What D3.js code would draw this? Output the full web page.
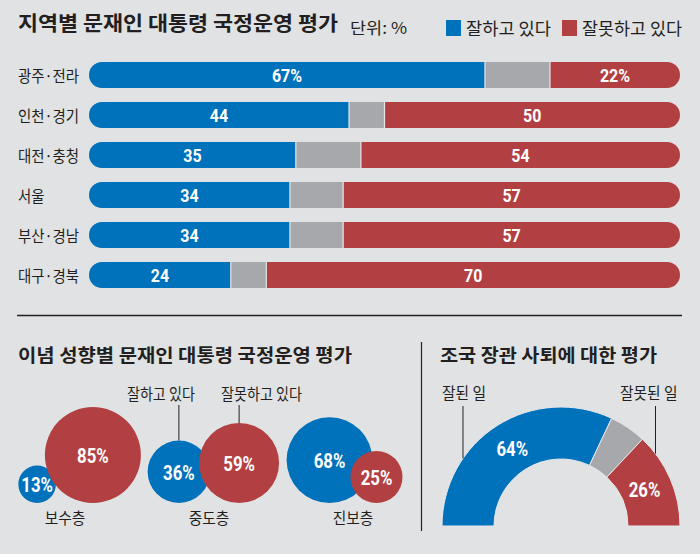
<!DOCTYPE html>
<html>
<head>
<meta charset="utf-8">
<script src="https://cdn.jsdelivr.net/npm/d3@7"></script>
<style>
  html, body { margin: 0; padding: 0; background: #e1e2e4; }
  svg { display: block; }
</style>
</head>
<body>
<svg id="chart" width="700" height="554"></svg>
<script>
// ---------------- DATA ----------------
const regions = ['광주·전라', '인천·경기', '대전·충청', '서울', '부산·경남', '대구·경북'];
const regionGood = [67, 44, 35, 34, 34, 24];
const regionBad = [22, 50, 54, 57, 57, 70];
const legendLabels = ['잘하고 있다', '잘못하고 있다'];

const ideology = ['보수층', '중도층', '진보층'];
const ideologyGood = [13, 36, 68];
const ideologyBad = [85, 59, 25];

const resignLabels = ['잘된 일', '기타', '잘못된 일'];
const resignValues = [64, 10, 26];

const titles = ['지역별 문재인 대통령 국정운영 평가', '이념 성향별 문재인 대통령 국정운영 평가', '조국 장관 사퇴에 대한 평가'];
const unitLabel = '단위: %';

// ---------------- STYLE ----------------
const BLUE = '#0071bb', RED = '#b24043', GRAY = '#a7a8ab', BG = '#e1e2e4', INK = '#231f20';
const KR = "'Noto Sans CJK KR', 'Noto Sans', sans-serif";
const NUM = "'Liberation Sans Narrow', 'Roboto', 'Liberation Sans', sans-serif";

const svg = d3.select('#chart');
svg.append('rect').attr('width', 700).attr('height', 554).attr('fill', BG);

function condense(sel, f) {
  sel.each(function () {
    const w = this.getComputedTextLength();
    d3.select(this).attr('textLength', w * f).attr('lengthAdjust', 'spacingAndGlyphs');
  });
}

// ---------------- HEADER ----------------
svg.append('text').attr('x', 18).attr('y', 31).text(titles[0])
  .attr('font-family', KR).attr('font-weight', 700).attr('font-size', 20).attr('fill', INK)
  .attr('textLength', 320).attr('lengthAdjust', 'spacingAndGlyphs');
svg.append('text').attr('x', 350).attr('y', 34).text(unitLabel)
  .attr('font-family', KR).attr('font-size', 16).attr('fill', INK)
  .attr('textLength', 57).attr('lengthAdjust', 'spacingAndGlyphs');

const legend = [
  { label: legendLabels[0], color: BLUE, x: 446, w: 85 },
  { label: legendLabels[1], color: RED, x: 562, w: 100 }
];
const lg = svg.append('g').selectAll('g').data(legend).join('g');
lg.append('rect').attr('x', d => d.x).attr('y', 20).attr('width', 15).attr('height', 16).attr('fill', d => d.color);
lg.append('text').attr('x', d => d.x + 20).attr('y', 35).text(d => d.label)
  .attr('font-family', KR).attr('font-size', 17).attr('fill', INK)
  .attr('textLength', d => d.w).attr('lengthAdjust', 'spacingAndGlyphs');

// ---------------- STACKED BARS ----------------
const rows = regions.map((r, i) => ({ region: r, good: regionGood[i], bad: regionBad[i], i }));
const y = d3.scaleBand().domain(regions).range([55, 295]).paddingInner(0.35).paddingOuter(0.175);
const x = d3.scaleLinear().domain([0, 100]).range([89, 680]);
const bh = y.bandwidth();

const defs = svg.append('defs');
rows.forEach(d => {
  defs.append('clipPath').attr('id', 'clip' + d.i)
    .append('rect').attr('x', x(0)).attr('y', y(d.region)).attr('width', x(100) - x(0))
    .attr('height', bh).attr('rx', bh / 2).attr('ry', bh / 2);
});

const barG = svg.append('g');
const rowG = barG.selectAll('g').data(rows).join('g')
  .attr('clip-path', d => `url(#clip${d.i})`);

rowG.selectAll('rect').data(d => [
  { v0: 0, v1: d.good, c: BLUE, d },
  { v0: d.good, v1: 100 - d.bad, c: GRAY, d },
  { v0: 100 - d.bad, v1: 100, c: RED, d }
]).join('rect')
  .attr('x', s => x(s.v0)).attr('width', s => x(s.v1) - x(s.v0))
  .attr('y', s => y(s.d.region)).attr('height', bh).attr('fill', s => s.c);

rowG.selectAll('line').data(d => [d.good, 100 - d.bad].map(v => ({ v, d }))).join('line')
  .attr('x1', s => x(s.v)).attr('x2', s => x(s.v))
  .attr('y1', s => y(s.d.region)).attr('y2', s => y(s.d.region) + bh)
  .attr('stroke', '#e4e6ea').attr('stroke-width', 1.2);

// region labels
barG.selectAll('text.cat').data(rows).join('text').attr('class', 'cat')
  .attr('x', 18).attr('y', d => y(d.region) + bh / 2 + 7).text(d => d.region)
  .attr('font-family', KR).attr('font-size', 16).attr('fill', INK)
  .call(condense, 0.9);

// value labels
const valLabels = [];
rows.forEach(d => {
  valLabels.push({ x: x(d.good / 2), y: y(d.region) + bh / 2, t: d.good + (d.i === 0 ? '%' : '') });
  valLabels.push({ x: x(100 - d.bad / 2), y: y(d.region) + bh / 2, t: d.bad + (d.i === 0 ? '%' : '') });
});
barG.selectAll('text.val').data(valLabels).join('text').attr('class', 'val')
  .attr('x', d => d.x).attr('y', d => d.y + 7).attr('text-anchor', 'middle').text(d => d.t)
  .attr('font-family', NUM).attr('font-weight', 700).attr('font-size', 19).attr('fill', '#fff')
  .call(condense, 0.84);

// ---------------- DIVIDERS ----------------
svg.append('line').attr('x1', 17).attr('x2', 682).attr('y1', 315.5).attr('y2', 315.5)
  .attr('stroke', INK).attr('stroke-width', 1.6);
svg.append('line').attr('x1', 421.5).attr('x2', 421.5).attr('y1', 342).attr('y2', 531)
  .attr('stroke', INK).attr('stroke-width', 1.2);

// ---------------- BUBBLES ----------------
svg.append('text').attr('x', 18).attr('y', 362).text(titles[1])
  .attr('font-family', KR).attr('font-weight', 700).attr('font-size', 18).attr('fill', INK)
  .attr('textLength', 334).attr('lengthAdjust', 'spacingAndGlyphs');

const bubbleOverlap = [11, 11, 22]; // layout: how far each pair of circles overlaps
const r = d3.scaleSqrt().domain([0, 85]).range([0, 48]);
const gx = d3.scalePoint().domain(ideology).range([65, 353]);
const baseY = 503;

const bubbles = [];
ideology.forEach((g, i) => {
  const rb = r(ideologyGood[i]), rr = r(ideologyBad[i]);
  const dist = rb + rr - bubbleOverlap[i];
  bubbles.push({ g, i, kind: 'good', v: ideologyGood[i], rad: rb, cx: gx(g) - dist / 2, cy: baseY - rb, c: BLUE });
  bubbles.push({ g, i, kind: 'bad', v: ideologyBad[i], rad: rr, cx: gx(g) + dist / 2, cy: baseY - rr, c: RED });
});
const ordered = bubbles.filter(b => b.kind === 'good').concat(bubbles.filter(b => b.kind === 'bad'));
const bg = svg.append('g');
bg.selectAll('circle').data(ordered).join('circle')
  .attr('cx', d => d.cx).attr('cy', d => d.cy).attr('r', d => d.rad).attr('fill', d => d.c);
bg.selectAll('text.bv').data(ordered).join('text').attr('class', 'bv')
  .attr('x', d => d.cx).attr('y', d => d.cy + 8).attr('text-anchor', 'middle').text(d => d.v + '%')
  .attr('font-family', NUM).attr('font-weight', 700).attr('font-size', 20).attr('fill', '#fff')
  .call(condense, 0.84);

bg.selectAll('text.grp').data(ideology).join('text').attr('class', 'grp')
  .attr('x', d => gx(d)).attr('y', 524).attr('text-anchor', 'middle').text(d => d)
  .attr('font-family', KR).attr('font-size', 16).attr('fill', INK)
  .call(condense, 0.92);

// callouts on the middle group
const midGood = bubbles.find(b => b.i === 1 && b.kind === 'good');
const midBad = bubbles.find(b => b.i === 1 && b.kind === 'bad');
const callouts = [
  { b: midGood, label: legendLabels[0], anchor: 'end', dx: 16 },
  { b: midBad, label: legendLabels[1], anchor: 'start', dx: -18 }
];
bg.selectAll('line.co').data(callouts).join('line').attr('class', 'co')
  .attr('x1', d => d.b.cx).attr('x2', d => d.b.cx)
  .attr('y1', 405).attr('y2', d => d.b.cy - d.b.rad)
  .attr('stroke', INK).attr('stroke-width', 1);
bg.selectAll('text.co').data(callouts).join('text').attr('class', 'co')
  .attr('x', d => d.b.cx + d.dx).attr('y', 400).attr('text-anchor', d => d.anchor).text(d => d.label)
  .attr('font-family', KR).attr('font-size', 16).attr('fill', INK)
  .call(condense, 0.88);

// ---------------- SEMI DONUT ----------------
svg.append('text').attr('x', 440).attr('y', 362).text(titles[2])
  .attr('font-family', KR).attr('font-weight', 700).attr('font-size', 18).attr('fill', INK)
  .attr('textLength', 217).attr('lengthAdjust', 'spacingAndGlyphs');

const cx0 = 561, cy0 = 526, rOut = 119, rIn = 67;
const pie = d3.pie().sort(null).value(d => d.v).startAngle(-Math.PI / 2).endAngle(Math.PI / 2);
const resign = resignLabels.map((l, i) => ({ l, v: resignValues[i], c: [BLUE, GRAY, RED][i] }));
const arcs = pie(resign);
const arc = d3.arc().innerRadius(rIn).outerRadius(rOut);
const dg = svg.append('g').attr('transform', `translate(${cx0},${cy0})`);
dg.selectAll('path').data(arcs).join('path').attr('d', arc)
  .attr('fill', d => d.data.c).attr('stroke', '#e6e8ea').attr('stroke-width', 1);

const labelArc = d3.arc().innerRadius(91).outerRadius(91);
dg.selectAll('text.pv').data(arcs.filter(a => a.index !== 1)).join('text').attr('class', 'pv')
  .attr('x', d => labelArc.centroid(d)[0]).attr('y', d => labelArc.centroid(d)[1] + 7)
  .attr('text-anchor', 'middle').text(d => d.data.v + '%')
  .attr('font-family', NUM).attr('font-weight', 700).attr('font-size', 20).attr('fill', '#fff')
  .call(condense, 0.84);

// callouts for semi donut
const dCallouts = [
  { a: arcs[0], t: 0.3, anchor: 'start', dx: -21 },
  { a: arcs[2], t: 0.2, anchor: 'end', dx: 22 }
];
dCallouts.forEach(d => {
  const ang = d.a.startAngle + (d.a.endAngle - d.a.startAngle) * d.t;
  d.px = rOut * Math.sin(ang);
  d.py = -rOut * Math.cos(ang);
});
dg.selectAll('line.dc').data(dCallouts).join('line').attr('class', 'dc')
  .attr('x1', d => d.px).attr('x2', d => d.px).attr('y1', 406 - cy0).attr('y2', d => d.py)
  .attr('stroke', INK).attr('stroke-width', 1);
dg.selectAll('text.dc').data(dCallouts).join('text').attr('class', 'dc')
  .attr('x', d => d.px + d.dx).attr('y', 399 - cy0).attr('text-anchor', d => d.anchor)
  .text(d => d.a.data.l)
  .attr('font-family', KR).attr('font-size', 16).attr('fill', INK)
  .call(condense, 0.92);
</script>
</body>
</html>
